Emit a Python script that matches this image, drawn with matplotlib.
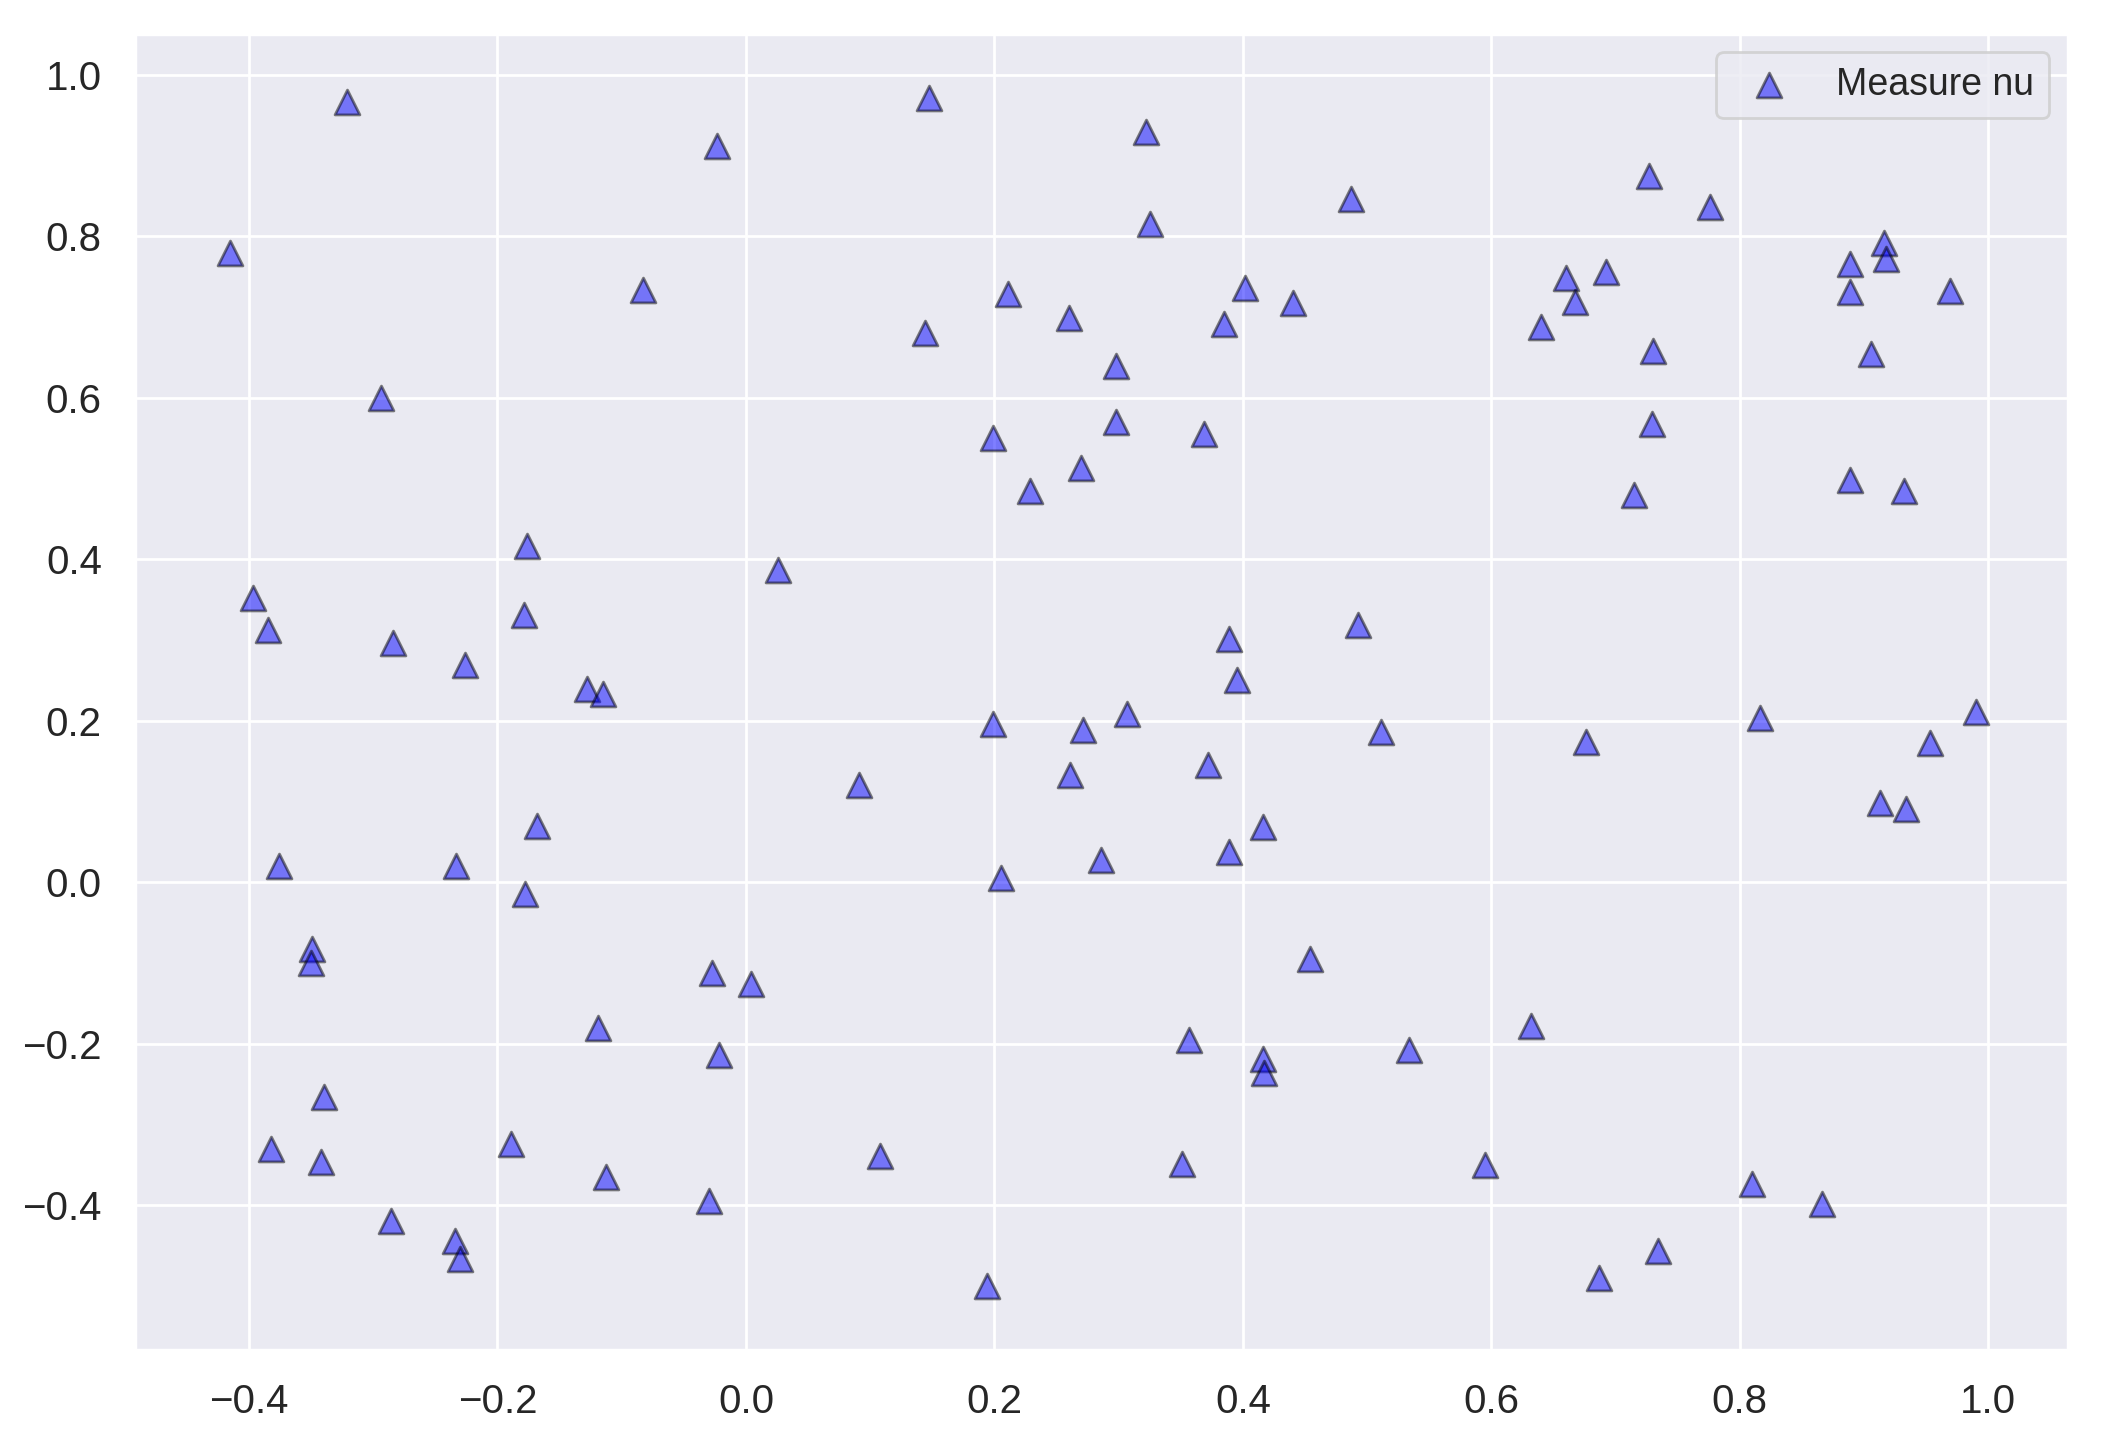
import numpy as np
import matplotlib
matplotlib.use("Agg")
import matplotlib.pyplot as plt
import seaborn as sns

sns.set_theme(style="darkgrid")
plt.rcParams['font.family'] = ['Liberation Sans', 'DejaVu Sans']

# points
x_vals = [
    -0.321, -0.415, -0.294, -0.023, -0.083, 0.147, 0.144, 0.322, 0.325, 0.487,
    0.211, 0.260, 0.199, 0.229, 0.270, 0.298, 0.298, 0.369, 0.385, 0.402,
    0.440, 0.727, 0.776, 0.660, 0.640, 0.667, 0.692, 0.730, 0.729, 0.715,
    0.889, 0.916, 0.918, 0.889, 0.906, 0.969, 0.889, 0.932, -0.397, -0.385,
    -0.284, -0.226, -0.176, -0.179, -0.128, -0.115, 0.026, 0.091, -0.168, -0.376,
    -0.233, -0.178, -0.349, -0.350, -0.340, -0.382, -0.342, -0.286, -0.234, -0.230,
    -0.189, -0.119, -0.113, -0.027, 0.004, -0.022, -0.030, 0.108, 0.194, 0.199,
    0.205, 0.261, 0.271, 0.307, 0.286, 0.372, 0.389, 0.395, 0.389, 0.416,
    0.454, 0.493, 0.511, 0.357, 0.416, 0.417, 0.351, 0.534, 0.632, 0.595,
    0.676, 0.687, 0.734, 0.810, 0.866, 0.816, 0.913, 0.934, 0.953, 0.990,
]
y_vals = [
    0.967, 0.779, 0.600, 0.912, 0.734, 0.972, 0.681, 0.930, 0.816, 0.847,
    0.729, 0.699, 0.550, 0.485, 0.513, 0.640, 0.570, 0.555, 0.691, 0.736,
    0.718, 0.875, 0.837, 0.749, 0.688, 0.719, 0.756, 0.658, 0.568, 0.480,
    0.766, 0.792, 0.772, 0.731, 0.654, 0.733, 0.498, 0.485, 0.352, 0.312,
    0.296, 0.269, 0.417, 0.331, 0.239, 0.233, 0.387, 0.120, 0.070, 0.020,
    0.020, -0.015, -0.083, -0.100, -0.266, -0.331, -0.347, -0.420, -0.445, -0.467,
    -0.324, -0.181, -0.365, -0.113, -0.126, -0.214, -0.395, -0.339, -0.500, 0.196,
    0.005, 0.133, 0.189, 0.208, 0.028, 0.145, 0.301, 0.251, 0.037, 0.068,
    -0.095, 0.319, 0.186, -0.196, -0.219, -0.236, -0.349, -0.208, -0.178, -0.350,
    0.174, -0.490, -0.457, -0.374, -0.399, 0.203, 0.098, 0.090, 0.173, 0.211,
]

fig, ax = plt.subplots(figsize=(10.505, 7.22), dpi=200)
fig.subplots_adjust(left=0.0643, right=0.9843, bottom=0.0651, top=0.9768)

ax.scatter(x_vals, y_vals, marker='^', s=80, c='blue', alpha=0.5,
           edgecolors='black', linewidths=1.0, label='Measure nu')
ax.set_xlim(-0.4917, 1.0642)
ax.set_ylim(-0.5797, 1.0515)
ax.tick_params(labelsize=14.5, pad=6)
ax.legend(loc='upper right', fontsize=13.5)

plt.savefig('out.png', dpi=200)
